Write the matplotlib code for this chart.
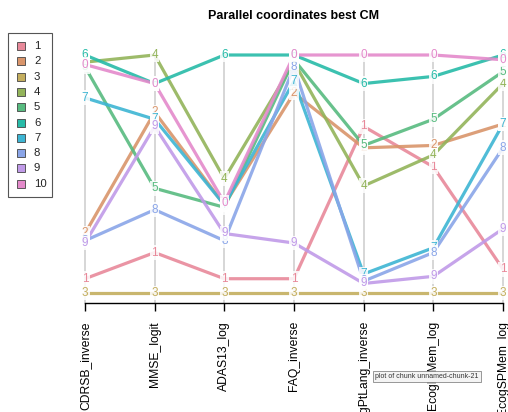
import matplotlib
matplotlib.use("Agg")
import matplotlib.pyplot as plt
from matplotlib.patches import Rectangle

plt.rcParams['font.family'] = ['Liberation Sans', 'DejaVu Sans']

variables = ["CDRSB_inverse", "MMSE_logit", "ADAS13_log", "FAQ_inverse",
             "EcogPtLang_inverse", "EcogPtMem_log", "EcogSPMem_log"]
clusters = ["1", "2", "3", "4", "5", "6", "7", "8", "9", "10"]
point_labels = ["1", "2", "3", "4", "5", "6", "7", "8", "9", "0"]

# scaled values (0 = min, 1 = max) per cluster across the 7 variables
c1 = [0.06, 0.17, 0.06, 0.06, 0.70, 0.53, 0.10]
c2 = [0.25, 0.76, 0.37, 0.84, 0.61, 0.62, 0.71]
c3 = [0.00, 0.00, 0.00, 0.00, 0.00, 0.00, 0.00]
c4 = [0.97, 1.00, 0.48, 0.97, 0.45, 0.58, 0.88]
c5 = [0.95, 0.44, 0.36, 0.98, 0.62, 0.73, 0.93]
c6 = [1.00, 0.88, 1.00, 1.00, 0.88, 0.91, 1.00]
c7 = [0.82, 0.73, 0.37, 0.89, 0.08, 0.19, 0.71]
c8 = [0.22, 0.35, 0.22, 0.95, 0.05, 0.17, 0.61]
c9 = [0.21, 0.70, 0.25, 0.21, 0.04, 0.07, 0.27]
c10 = [0.96, 0.88, 0.38, 1.00, 1.00, 1.00, 0.98]
series = [c1, c2, c3, c4, c5, c6, c7, c8, c9, c10]

colors = ["#E8899A", "#D9956B", "#C4AE5E", "#93B45A", "#58BB80",
          "#27BBA8", "#3DB5D3", "#8AA5E8", "#C09AE8", "#E48ACB"]

W, H = 508, 412
fig = plt.figure(figsize=(W / 100, H / 100), dpi=100)

# axes: x 85..503 px, y data 0 at 293px, 1 at 55px; axes bottom at 303px, top at 40px
unit = 293 - 55
ax = fig.add_axes([85 / W, (H - 303) / H, (503 - 85) / W, (303 - 40) / H])
ax.set_xlim(0, len(variables) - 1)
ax.set_ylim(-(303 - 293) / unit, (293 - 40) / unit)

xs = list(range(len(variables)))
for x in xs:
    ax.plot([x, x], [-(303 - 293) / unit, 1.01], color="#D0D0D0", lw=1.2, zorder=1, clip_on=False)

for vals, col in zip(series, colors):
    ax.plot(xs, vals, color=col, lw=2.3, alpha=0.9, zorder=2, clip_on=False,
            solid_capstyle="butt")

for vals, col, lab in zip(series, colors, point_labels):
    for x, v in zip(xs, vals):
        ax.text(x, v, lab, color=col, fontsize=8.5, ha="center", va="center",
                zorder=3, clip_on=False,
                bbox=dict(boxstyle="square,pad=0.12", facecolor="white",
                          edgecolor="none", alpha=0.85))

for s in ["top", "left", "right"]:
    ax.spines[s].set_visible(False)
ax.spines["bottom"].set_color("black")
ax.spines["bottom"].set_linewidth(1.0)
ax.set_yticks([])
ax.set_xticks(xs)
ax.set_xticklabels(variables, rotation=90, fontsize=8.7)
ax.tick_params(axis="x", length=6, width=1.0, pad=7, color="black")
for t in ax.get_xticklabels():
    t.set_va("top")
    t.set_ha("center")

fig.text(294 / W, 1 - 16 / H, "Parallel coordinates best CM", ha="center", va="center",
         fontsize=9, fontweight="bold")

# legend box
fig.add_artist(Rectangle((8 / W, 1 - 197 / H), 44 / W, (197 - 33) / H,
                         transform=fig.transFigure, fill=False, edgecolor="#555555", lw=0.8))
for i, (lab, col) in enumerate(zip(clusters, colors)):
    yc = 46 + i * 15.3
    fig.add_artist(Rectangle((17 / W, 1 - (yc + 4) / H), 8 / W, 8 / H,
                             transform=fig.transFigure, facecolor=col,
                             edgecolor="#444444", lw=0.6))
    fig.text(34 / W, 1 - yc / H, lab, ha="left", va="center", fontsize=8.2, color="#222222")

# tooltip overlay
fig.text(375 / W, 1 - 376.5 / H, "plot of chunk unnamed-chunk-21", ha="left", va="center",
         fontsize=5.0, color="#333333", zorder=10,
         bbox=dict(boxstyle="square,pad=0.35", facecolor="#F4F4F4", edgecolor="#888888", lw=0.6))

fig.savefig("out.png", dpi=100)
